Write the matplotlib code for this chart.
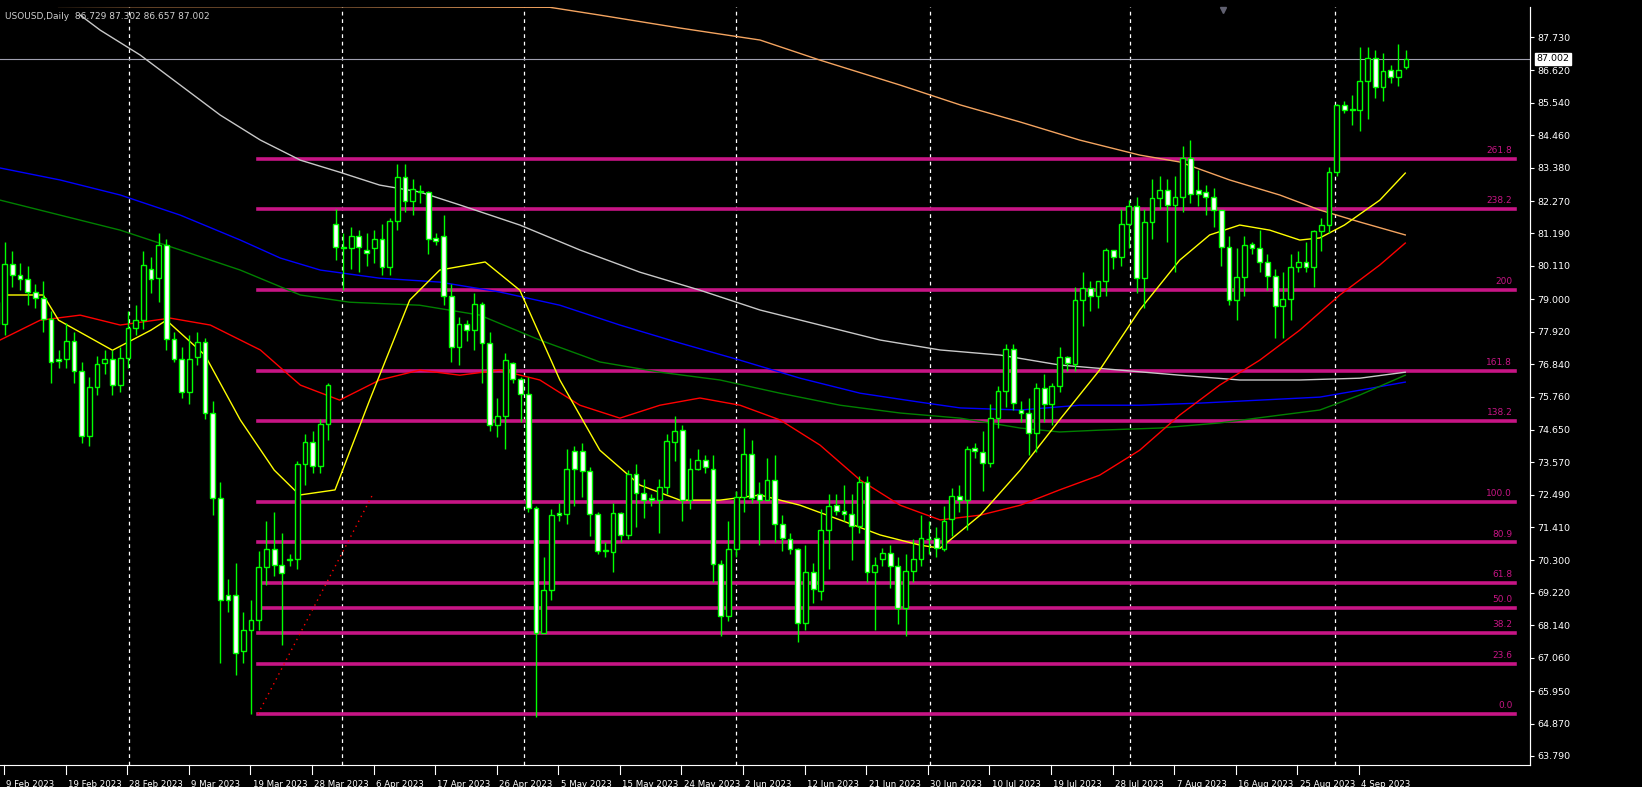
import numpy as np
import matplotlib.pyplot as plt

# daily bars, USOUSD Feb-Sep 2023
opens = [78.91,78.16,80.17,79.79,79.67,79.23,79.04,78.35,77.02,77.00,77.60,76.60,74.45,76.08,76.88,77.00,76.15,77.05,78.03,78.31,
         80.00,79.69,80.80,77.66,77.00,75.92,77.09,77.59,75.21,72.38,69.15,69.15,67.29,67.98,68.33,70.08,70.68,70.15,70.30,70.34,
         73.51,74.23,73.45,74.83,81.49,80.72,80.70,81.11,80.65,80.70,80.99,80.08,81.59,83.06,82.28,82.60,82.58,81.05,81.10,79.10,
         77.40,78.18,77.97,78.85,77.53,74.82,75.12,76.86,76.33,75.86,72.04,67.90,69.33,71.87,71.86,73.94,73.94,73.28,71.86,70.61,
         70.59,71.88,71.16,73.17,72.55,72.37,72.30,72.75,74.23,74.64,72.32,73.35,73.66,73.35,70.19,68.45,70.69,72.40,73.85,72.51,
         72.30,72.97,71.51,71.00,70.67,68.22,69.93,69.30,71.32,72.16,71.95,71.86,71.44,72.93,69.93,70.35,70.56,70.12,68.72,69.96,
         70.35,71.00,71.04,70.67,71.67,72.46,72.32,74.05,73.90,73.56,75.03,75.95,77.34,75.31,75.20,74.54,76.04,75.51,76.10,77.06,
         76.84,78.98,79.38,79.10,79.60,80.64,80.39,81.52,82.09,79.72,81.58,82.37,82.65,82.15,82.41,83.69,82.62,82.57,82.41,81.98,
         80.73,78.98,79.74,80.84,80.71,80.23,79.77,78.78,79.00,80.08,80.23,80.08,81.26,81.47,83.25,85.48,85.30,85.30,86.27,87.02,
         86.06,86.63,86.40,86.73]
closes = [78.16,80.17,79.79,79.67,79.23,79.04,78.35,76.90,76.95,77.60,76.60,74.45,76.08,76.84,77.00,76.15,77.05,78.03,78.31,80.14,
          79.67,80.80,77.66,77.00,75.92,77.00,77.59,75.21,72.38,68.98,69.00,67.23,67.98,68.33,70.08,70.68,70.15,69.87,70.34,73.51,
          74.23,73.45,74.83,76.15,80.73,80.70,81.11,80.73,80.55,80.99,80.08,81.59,83.06,82.28,82.68,82.58,81.01,80.95,79.10,77.40,
          78.16,77.97,78.85,77.53,74.82,75.12,76.96,76.33,75.86,72.04,67.90,69.33,71.83,71.83,73.35,73.35,73.28,71.86,70.61,70.61,
          71.88,71.16,73.17,72.55,72.33,72.30,72.75,74.27,74.62,72.32,73.35,73.66,73.41,70.19,68.45,70.69,72.40,73.85,72.39,72.30,
          72.97,71.51,71.04,70.67,68.22,69.93,69.35,71.32,72.11,71.95,71.86,71.44,72.93,69.93,70.14,70.56,70.12,68.72,69.96,70.35,
          71.04,71.00,70.72,71.62,72.46,72.30,74.01,73.93,73.56,75.03,75.95,77.34,75.56,75.20,74.54,76.04,75.51,76.10,77.06,76.86,
          78.98,79.38,79.10,79.60,80.64,80.39,81.52,82.09,79.72,81.58,82.37,82.65,82.15,82.41,83.69,82.51,82.51,82.41,81.98,80.73,
          78.98,79.74,80.82,80.71,80.23,79.77,78.78,79.00,80.08,80.23,80.08,81.26,81.47,83.25,85.48,85.31,85.30,86.27,87.02,86.06,
          86.61,86.40,86.63,87.00]
highs = [79.6,80.9,80.6,80.2,80.1,79.5,79.6,78.6,77.3,78.2,77.9,76.9,76.4,77.1,77.3,77.3,77.4,78.6,78.8,80.6,
         80.4,81.2,81.0,77.9,77.4,77.8,77.9,77.7,75.6,72.9,69.7,70.2,68.6,69.0,70.6,71.6,71.9,71.2,70.5,73.6,
         74.5,74.6,75.0,76.2,82.0,81.2,81.4,81.3,81.2,81.3,81.5,81.7,83.5,83.5,83.0,82.8,82.6,81.2,81.8,79.5,
         78.4,78.3,79.2,78.9,77.9,75.7,77.2,76.9,76.4,76.4,72.1,70.4,72.0,72.2,74.0,74.1,74.2,73.4,71.9,70.9,
         72.2,71.9,73.3,73.5,73.0,72.5,73.0,74.5,75.1,74.8,73.7,74.0,73.8,73.8,70.3,71.6,72.6,74.7,74.3,72.9,
         73.7,73.8,71.8,71.2,70.7,70.8,70.2,72.0,72.5,72.5,72.8,72.5,73.1,73.1,70.4,70.7,70.8,70.4,70.5,71.0,
         71.8,71.6,71.4,72.1,72.7,72.8,74.1,74.2,74.6,75.5,76.1,77.5,77.5,75.6,75.7,76.2,76.5,76.2,77.4,77.1,
         79.4,79.9,79.6,79.6,80.7,80.6,82.0,82.3,82.4,82.0,83.0,83.1,83.0,83.1,84.1,84.3,83.3,82.8,82.7,81.6,
         81.1,80.7,81.1,80.9,81.3,80.5,80.0,79.9,80.5,80.6,80.9,81.3,81.7,83.4,85.5,85.6,85.8,87.4,87.4,87.3,
         87.2,86.8,87.5,87.30]
lows = [77.9,77.8,79.4,79.3,78.8,78.7,77.9,76.2,76.7,76.7,76.2,74.2,74.1,75.8,76.5,75.8,75.9,76.7,77.8,78.0,
        79.2,78.9,77.3,76.9,75.7,75.5,76.8,75.0,71.8,66.9,68.6,66.5,66.9,65.19,68.0,69.5,69.8,67.5,70.1,70.0,
        72.8,73.2,73.2,74.3,80.3,79.3,80.0,79.9,80.1,80.2,79.8,79.8,81.3,81.9,81.8,82.2,80.5,80.8,78.8,76.9,
        76.8,77.6,77.3,76.2,74.6,74.4,74.0,76.2,74.9,71.9,65.08,68.7,69.0,71.6,71.5,72.1,72.4,71.1,70.5,70.4,
        69.9,70.9,71.0,71.4,71.7,72.1,71.2,72.5,73.6,71.6,72.0,73.3,73.2,69.6,67.8,68.3,70.4,71.9,72.2,70.8,
        72.3,70.9,70.6,70.5,67.6,68.0,68.9,69.0,70.0,71.8,71.6,70.3,71.2,69.6,68.0,70.1,69.4,68.2,67.8,69.6,
        70.1,70.5,70.4,70.6,71.1,71.9,71.3,73.7,72.6,73.4,74.7,75.4,75.3,74.9,73.8,73.9,74.9,74.8,75.9,76.6,
        76.6,78.1,78.6,78.7,79.1,80.0,80.1,80.7,79.2,78.7,81.0,82.0,80.9,79.9,81.9,82.2,82.1,81.8,81.4,80.1,
        78.8,78.3,79.1,80.5,79.9,79.3,77.7,77.7,78.3,79.9,79.9,79.4,80.6,81.2,83.1,85.2,84.8,84.6,85.0,85.7,
        85.6,86.2,86.1,86.66]

# moving averages sampled along the chart: (bar index, price)
ma_yellow = [(1,79.14),(6,79.14),(8,78.3),(15,77.3),(20,77.97),(22,78.3),(27,77.14),(31.6,74.98),(36,73.31),(39.3,72.48),
             (43.9,72.65),(48.4,75.64),(53.6,78.97),(57.5,79.97),(63.4,80.24),(67.9,79.30),(73.1,76.31),(78.3,73.97),(83.5,72.81),
             (88.7,72.31),(93.9,72.31),(99.1,72.48),(104.3,72.14),(109.5,71.65),(114.7,71.15),(119.9,70.81),(122.5,70.71),
             (127.7,71.81),(132.9,73.31),(138,74.98),(143.2,76.64),(148.4,78.64),(153.6,80.30),(157.5,81.14),(161.4,81.47),
             (165.3,81.30),(169.2,80.97),(171.8,81.04),(175,81.47),(179.6,82.3),(182.9,83.2)]
ma_red = [(0.4,77.64),(5.6,78.30),(10.8,78.47),(16,78.14),(22.5,78.37),(27.7,78.14),(34.2,77.31),(39.4,76.14),(44.5,75.64),
          (49.7,76.31),(54.9,76.64),(60.1,76.47),(65.3,76.64),(70.5,76.31),(75.7,75.47),(80.9,75.04),(86.1,75.47),(91.3,75.71),
          (96.5,75.47),(101.7,74.98),(106.9,74.14),(112.1,72.98),(117.3,72.14),(122.5,71.65),(127.7,71.81),(132.9,72.14),
          (138,72.65),(143.2,73.14),(148.4,73.97),(153.6,75.14),(158.8,76.14),(164,76.97),(169.2,77.97),(174.4,79.14),
          (179.6,80.14),(182.9,80.87)]
ma_green = [(0.4,82.30),(8.2,81.80),(16,81.30),(23.8,80.64),(31.6,79.97),(39.4,79.14),(45.8,78.90),(54.9,78.80),(62.7,78.47),
            (70.5,77.64),(78.3,76.91),(86.1,76.57),(93.9,76.31),(101.7,75.87),(109.5,75.47),(117.3,75.21),(125.1,75.04),
            (132.9,74.71),(138,74.58),(143.2,74.64),(151,74.71),(158.8,74.88),(166.6,75.14),(171.8,75.31),(177,75.81),(182.9,76.47)]
ma_blue = [(0.4,83.37),(8.2,82.97),(16,82.47),(23.8,81.80),(31.6,80.97),(36.8,80.37),(42,79.97),(49.7,79.70),(57.5,79.57),
           (65.3,79.24),(73.1,78.80),(80.9,78.14),(88.7,77.54),(96.5,76.97),(104.3,76.37),(112.1,75.87),(119.9,75.57),
           (125.1,75.38),(132.9,75.31),(140.6,75.47),(148.4,75.47),(156.2,75.54),(164,75.64),(171.8,75.74),(177,75.97),(182.9,76.24)]
ma_grey = [(10.8,88.46),(13.4,87.96),(18.6,87.13),(23.8,86.13),(29,85.13),(34.2,84.30),(39.4,83.63),(44.5,83.23),(49.7,82.80),
           (54.9,82.57),(60.1,82.14),(67.9,81.47),(75.7,80.64),(83.5,79.90),(91.3,79.30),(99.1,78.64),(106.9,78.14),(114.7,77.64),
           (122.5,77.31),(130.3,77.14),(138,76.81),(145.8,76.64),(153.6,76.47),(161.4,76.31),(169.2,76.31),(177,76.37),(182.9,76.57)]
ma_orange = [(8,88.75),(20,88.74),(45,88.74),(71.8,88.72),(78.3,88.46),(88.7,88.03),(99.1,87.63),(106.9,86.96),(117.3,86.13),
             (125.1,85.47),(132.9,84.90),(140.6,84.30),(148.4,83.80),(153.6,83.57),(160.1,82.97),(166.6,82.47),(171.8,81.97),
             (177,81.57),(182.9,81.14)]

fib_low, fib_high = 65.19, 72.25
fib_levels = [0.0, 23.6, 38.2, 50.0, 61.8, 80.9, 100.0, 138.2, 161.8, 200, 238.2, 261.8]
fib_start, fib_end = 33.9, 197.2

price_ticks = [87.730,86.620,85.540,84.460,83.380,82.270,81.190,80.110,79.000,77.920,76.840,75.760,74.650,
               73.570,72.490,71.410,70.300,69.220,68.140,67.060,65.950,64.870,63.790]
date_labels = ["9 Feb 2023","19 Feb 2023","28 Feb 2023","9 Mar 2023","19 Mar 2023","28 Mar 2023","6 Apr 2023",
               "17 Apr 2023","26 Apr 2023","5 May 2023","15 May 2023","24 May 2023","2 Jun 2023","12 Jun 2023",
               "21 Jun 2023","30 Jun 2023","10 Jul 2023","19 Jul 2023","28 Jul 2023","7 Aug 2023","16 Aug 2023",
               "25 Aug 2023","4 Sep 2023"]
separators = [17.1, 44.8, 68.4, 96.0, 121.2, 147.1, 173.8]
last_price = 87.002

W, H = 1642, 787
fig = plt.figure(figsize=(W/100, H/100), dpi=100, facecolor='black')
ax = fig.add_axes([0, 22/H, 1530/W, 758/H], facecolor='black')
ax.set_xlim(0.39, 199.1)
ax.set_ylim(63.49, 88.73)

# moving averages
for pts, col in [(ma_orange,'#F4A460'),(ma_grey,'#C8C8C8'),(ma_blue,'#0000FF'),(ma_green,'#008000'),
                 (ma_red,'#FF0000'),(ma_yellow,'#FFFF00')]:
    xs, ys = zip(*pts)
    ax.plot(xs, ys, color=col, lw=1, zorder=2, solid_joinstyle='round')

# fibonacci levels
for lv in fib_levels:
    p = fib_low + (fib_high - fib_low) * lv / 100
    ax.plot([fib_start, fib_end], [p, p], color='#C71585', lw=2.6, zorder=1)
    ax.text(fib_end - 0.4, p + 0.12, f"{lv}", color='#C71585',
            fontsize=6.5, ha='right', va='bottom', zorder=1)
ax.plot([fib_start, 48.7], [fib_low, 72.45], color='#FF0000', lw=1, ls=(0, (1, 3)), zorder=1)

for s in separators:
    ax.axvline(s, color='white', lw=0.9, ls=(0, (3, 3)), zorder=0)

ax.axhline(last_price, color='#A0A0B0', lw=0.8, zorder=1)

# candles
idx = np.arange(len(closes))
o = np.array(opens); c = np.array(closes)
ax.vlines(idx, lows, highs, color='#00FF00', lw=1, zorder=3)
bull = c >= o
bot = np.minimum(o, c); hgt = np.maximum(np.abs(c - o), 0.03)
ax.bar(idx[bull], hgt[bull], bottom=bot[bull], width=0.62, facecolor='black', edgecolor='#00FF00', lw=1, zorder=4)
ax.bar(idx[~bull], hgt[~bull], bottom=bot[~bull], width=0.62, facecolor='white', edgecolor='#00FF00', lw=1, zorder=4)

ax.set_xticks([]); ax.set_yticks([])
for k in ['top', 'left']:
    ax.spines[k].set_visible(False)
for k in ['right', 'bottom']:
    ax.spines[k].set_color('white')

# right price scale
ax2 = ax.twinx()
ax2.set_ylim(ax.get_ylim())
ax2.set_yticks(price_ticks)
ax2.set_yticklabels([f"{t:.3f}" for t in price_ticks])
ax2.tick_params(axis='y', colors='white', labelsize=6.8, length=3, pad=2)
for k in ['top', 'left', 'bottom']:
    ax2.spines[k].set_visible(False)
ax2.spines['right'].set_color('white')
ax2.text(1.004, last_price, f"{last_price:.3f}", transform=ax2.get_yaxis_transform(), fontsize=6.8,
         color='black', va='center', ha='left', bbox=dict(facecolor='white', edgecolor='white', pad=1))

# bottom date scale
for k, lab in enumerate(date_labels):
    bx = 0.9 + 8 * k
    ax.plot([bx, bx], [63.49, 63.20], color='white', lw=0.8, clip_on=False)
    ax.text(bx + 0.3, 63.0, lab, color='white', fontsize=6.2, ha='left', va='top', clip_on=False)

ax.text(0.003, 0.993, "USOUSD,Daily  86.729 87.302 86.657 87.002", transform=ax.transAxes,
        color='#D0D0D0', fontsize=6.5, ha='left', va='top')
ax.plot([159.2], [88.62], marker='v', color='#606070', ms=5, clip_on=False)

fig.savefig('out.png', dpi=100, facecolor='black')
